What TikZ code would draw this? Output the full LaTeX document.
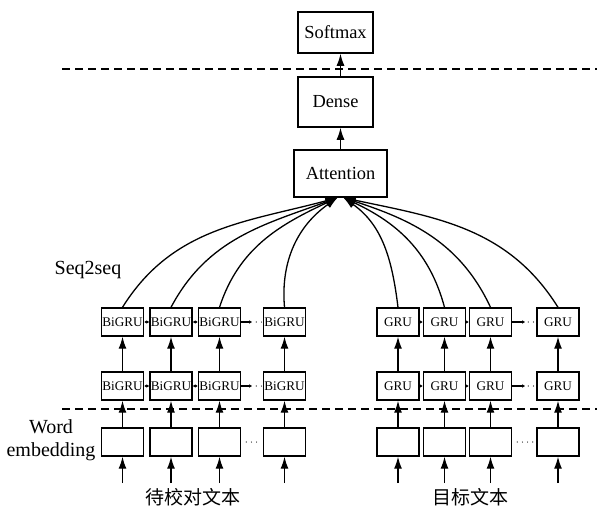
\documentclass[tikz,border=0pt]{standalone}
\usepackage{fontspec}
\setmainfont{Liberation Serif}
\newfontfamily\cjk{Noto Sans CJK SC}
\usetikzlibrary{arrows.meta}

\begin{document}
\begin{tikzpicture}[x=0.5pt,y=-0.5pt]
\tikzset{layer/.style = {shape=rectangle,draw,line width=0.75pt,inner sep=0pt,font=\fontsize{9.2}{10}\selectfont}}
\tikzset{cell/.style = {shape=rectangle,draw,line width=0.7pt,inner sep=0pt,minimum width=21pt,minimum height=14pt,font=\fontsize{6.6}{7}\selectfont}}
\tikzset{edge/.style = {-{Latex[length=6pt,width=4pt]},line width=0.65pt}}
\tikzset{hlink/.style = {line width=0.55pt,{Latex[length=1.3pt,width=1.6pt]}-{Latex[length=1.3pt,width=1.6pt]}}}
\tikzset{flink/.style = {line width=0.55pt,-{Latex[length=1.5pt,width=1.8pt]}}}
\tikzset{dots/.style = {line width=0.6pt,line cap=round,dash pattern=on 0pt off 2.6pt}}
\tikzset{sep/.style = {line width=0.65pt,dash pattern=on 4pt off 2.5pt}}
\tikzset{label/.style = {font=\fontsize{10}{11.5}\selectfont,align=center}}
\tikzset{cjklabel/.style = {font=\cjk\fontsize{9.5}{10}\selectfont}}
\useasboundingbox (0,0) rectangle (599,509);
% output layers
\node[layer,minimum width=37.5pt,minimum height=20.5pt](sm) at (335.5,32.5) {Softmax};
\node[layer,minimum width=37.5pt,minimum height=25pt](de) at (335.5,102) {Dense};
\node[layer,minimum width=46.5pt,minimum height=23.5pt](at) at (340.5,173.5) {Attention};
\draw[edge] (at.north) -- (at.north |- de.south);
\draw[edge] (at.north |- de.north) -- (at.north |- sm.south);
\draw[sep] (62,69) -- (597,69);
\draw[sep] (62,409) -- (597,409);
% source side
\node[cell](bu1) at (122.5,322) {BiGRU};
\node[cell](bu2) at (171,322) {BiGRU};
\node[cell](bu3) at (219.5,322) {BiGRU};
\node[cell](bu4) at (284.5,322) {BiGRU};
\node[cell](bl1) at (122.5,386) {BiGRU};
\node[cell](bl2) at (171,386) {BiGRU};
\node[cell](bl3) at (219.5,386) {BiGRU};
\node[cell](bl4) at (284.5,386) {BiGRU};
\node[cell](e1) at (122.5,442) {};
\node[cell](e2) at (171,442) {};
\node[cell](e3) at (219.5,442) {};
\node[cell](e4) at (284.5,442) {};
% target side
\node[cell](gu1) at (398,322) {GRU};
\node[cell](gu2) at (444.5,322) {GRU};
\node[cell](gu3) at (490.5,322) {GRU};
\node[cell](gu4) at (558,322) {GRU};
\node[cell](gl1) at (398,386) {GRU};
\node[cell](gl2) at (444.5,386) {GRU};
\node[cell](gl3) at (490.5,386) {GRU};
\node[cell](gl4) at (558,386) {GRU};
\node[cell](f1) at (398,442) {};
\node[cell](f2) at (444.5,442) {};
\node[cell](f3) at (490.5,442) {};
\node[cell](f4) at (558,442) {};
% inputs
\coordinate (i1) at (122.5,483); \coordinate (i2) at (171,483);
\coordinate (i3) at (219.5,483); \coordinate (i4) at (284.5,483);
\coordinate (j1) at (398,483); \coordinate (j2) at (444.5,483);
\coordinate (j3) at (490.5,483); \coordinate (j4) at (558,483);
\draw[edge] (i1) -- (e1); \draw[edge] (e1) -- (bl1); \draw[edge] (bl1) -- (bu1);
\draw[edge] (i2) -- (e2); \draw[edge] (e2) -- (bl2); \draw[edge] (bl2) -- (bu2);
\draw[edge] (i3) -- (e3); \draw[edge] (e3) -- (bl3); \draw[edge] (bl3) -- (bu3);
\draw[edge] (i4) -- (e4); \draw[edge] (e4) -- (bl4); \draw[edge] (bl4) -- (bu4);
\draw[edge] (j1) -- (f1); \draw[edge] (f1) -- (gl1); \draw[edge] (gl1) -- (gu1);
\draw[edge] (j2) -- (f2); \draw[edge] (f2) -- (gl2); \draw[edge] (gl2) -- (gu2);
\draw[edge] (j3) -- (f3); \draw[edge] (f3) -- (gl3); \draw[edge] (gl3) -- (gu3);
\draw[edge] (j4) -- (f4); \draw[edge] (f4) -- (gl4); \draw[edge] (gl4) -- (gu4);
% recurrent links
\draw[hlink] (bu1) -- (bu2); \draw[hlink] (bu2) -- (bu3);
\draw[hlink] (bl1) -- (bl2); \draw[hlink] (bl2) -- (bl3);
\draw[flink] (gu1) -- (gu2); \draw[flink] (gu2) -- (gu3);
\draw[flink] (gl1) -- (gl2); \draw[flink] (gl2) -- (gl3);
\draw[flink] (bu3.east) -- ++(11,0) coordinate (bx1);
\draw[flink] (bl3.east) -- ++(11,0) coordinate (bx2);
\draw[flink] (gu3.east) -- ++(13,0) coordinate (gx1);
\draw[flink] (gl3.east) -- ++(13,0) coordinate (gx2);
\draw[dots] ([xshift=2pt]bx1) -- (bu4.west);
\draw[dots] ([xshift=2pt]bx2) -- (bl4.west);
\draw[dots] ([xshift=1.5pt]gx1) -- (gu4.west);
\draw[dots] ([xshift=1.5pt]gx2) -- (gl4.west);
\draw[dots] ([xshift=2.5pt]e3.east) -- ([xshift=-1.5pt]e4.west);
\draw[dots] ([xshift=2.5pt]f3.east) -- ([xshift=-1.5pt]f4.west);
% attention inputs
\draw[edge] (bu1.north) to[out=58,in=195] ([xshift=-1.5pt]at.south);
\draw[edge] (bu2.north) to[out=62,in=200] ([xshift=-1.5pt]at.south);
\draw[edge] (bu3.north) to[out=72,in=205] ([xshift=-1.5pt]at.south);
\draw[edge] (bu4.north) to[out=95,in=215] ([xshift=-1.5pt]at.south);
\draw[edge] (gu1.north) to[out=97,in=-35] ([xshift=1.5pt]at.south);
\draw[edge] (gu2.north) to[out=105,in=-25] ([xshift=1.5pt]at.south);
\draw[edge] (gu3.north) to[out=115,in=-18] ([xshift=1.5pt]at.south);
\draw[edge] (gu4.north) to[out=122,in=-12] ([xshift=1.5pt]at.south);
% labels
\node[label](s2s) at (88,270) {Seq2seq};
\node[label](we) at (51,440) {Word\\embedding};
\node[cjklabel](src) at (193,497) {待校对文本};
\node[cjklabel](tgt) at (470,497) {目标文本};
\end{tikzpicture}
\end{document}
